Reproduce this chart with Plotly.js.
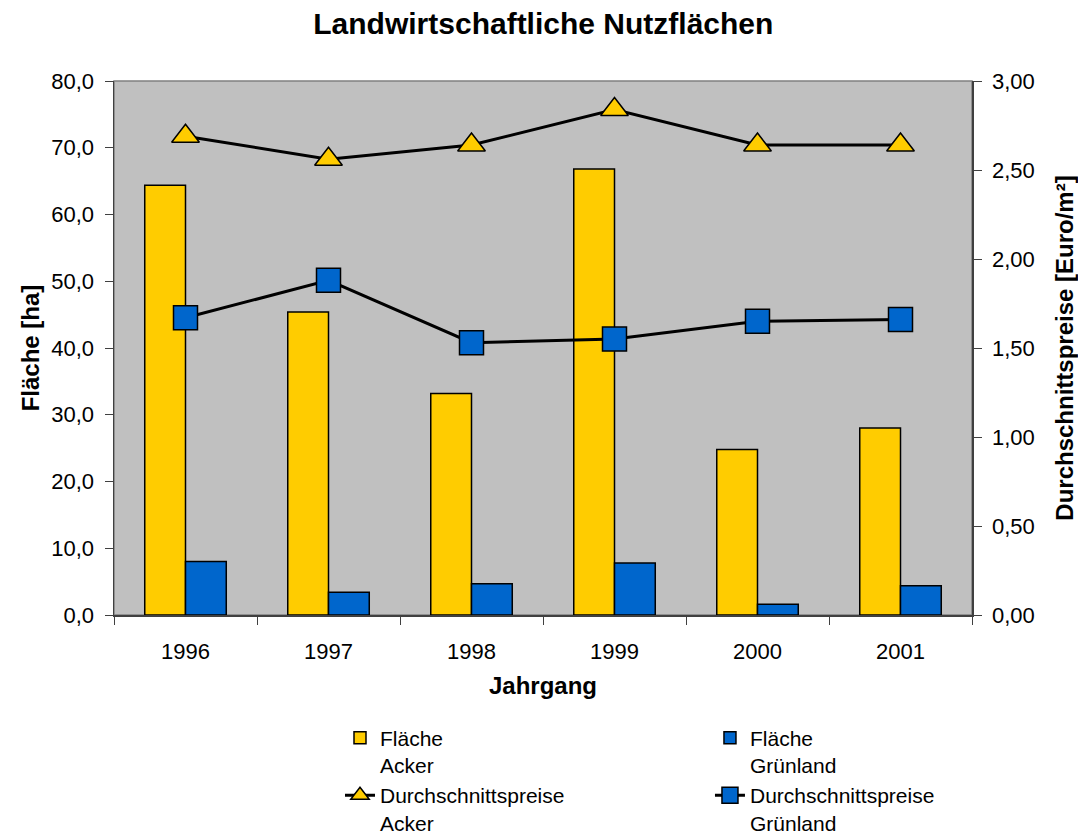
<!DOCTYPE html>
<html lang="de">
<head>
    <meta charset="UTF-8">
    <title>Landwirtschaftliche Nutzflächen</title>
    <script src="https://cdn.plot.ly/plotly-3.0.1.min.js"></script>
    <style>
        body { margin: 0; padding: 0; background: #fff; }
        #chart { width: 1078px; height: 834px; }
    </style>
</head>
<body>
    <div id="chart"></div>
    <script>
        // Daten
        const jahre = ['1996', '1997', '1998', '1999', '2000', '2001'];
        const flaecheAcker = [64.4, 45.4, 33.2, 66.8, 24.8, 28.0];
        const flaecheGruenland = [8.0, 3.4, 4.7, 7.8, 1.6, 4.4];
        const preisAcker = [2.69, 2.56, 2.64, 2.84, 2.64, 2.64];
        const preisGruenland = [1.67, 1.88, 1.53, 1.55, 1.65, 1.66];

        const gelb = '#FFCC00';
        const blau = '#0066CC';
        const schrift = 'Liberation Sans, Arial, sans-serif';

        const data = [
            {
                type: 'bar', x: jahre, y: flaecheAcker, name: 'Fläche<br>Acker',
                marker: { color: gelb, line: { color: '#000', width: 1.5 } },
                legend: 'legend'
            },
            {
                type: 'bar', x: jahre, y: flaecheGruenland, name: 'Fläche<br>Grünland',
                marker: { color: blau, line: { color: '#000', width: 1.5 } },
                legend: 'legend2'
            },
            {
                type: 'scatter', mode: 'lines+markers', x: jahre, y: preisAcker, yaxis: 'y2',
                name: 'Durchschnittspreise<br>Acker',
                line: { color: '#000', width: 3 },
                marker: { symbol: 'triangle-up', size: 24, color: gelb, line: { color: '#000', width: 1.5 } },
                legend: 'legend'
            },
            {
                type: 'scatter', mode: 'lines+markers', x: jahre, y: preisGruenland, yaxis: 'y2',
                name: 'Durchschnittspreise<br>Grünland',
                line: { color: '#000', width: 3 },
                marker: { symbol: 'square', size: 24, color: blau, line: { color: '#000', width: 1.5 } },
                legend: 'legend2'
            }
        ];

        // zwei Legendenspalten unter dem Diagramm
        const legendeBasis = {
            orientation: 'v', yanchor: 'top', xanchor: 'left', y: -0.192,
            valign: 'top', tracegroupgap: 0, bgcolor: 'rgba(0,0,0,0)',
            font: { family: schrift, size: 21, color: '#000' }
        };

        const layout = {
            width: 1078,
            height: 834,
            margin: { l: 114, r: 106, t: 81, b: 219, autoexpand: false },
            paper_bgcolor: '#fff',
            plot_bgcolor: '#C0C0C0',
            separators: ',.',
            font: { family: schrift, color: '#000' },
            barmode: 'group',
            bargap: 0.43,
            bargroupgap: 0,
            title: {
                text: '<b>Landwirtschaftliche Nutzflächen</b>',
                font: { family: schrift, size: 30, color: '#000' },
                x: 0.504, xanchor: 'center', y: 0.972, yanchor: 'middle'
            },
            xaxis: {
                type: 'category', automargin: false,
                showline: true, linecolor: '#404040', linewidth: 1.5,
                ticks: 'outside', tickson: 'boundaries', ticklen: 8, tickcolor: '#404040',
                tickfont: { family: schrift, size: 22, color: '#000' },
                ticklabelstandoff: 16,
                showgrid: false, zeroline: false,
                title: { text: '<b>Jahrgang</b>', font: { family: schrift, size: 24, color: '#000' }, standoff: 14 }
            },
            yaxis: {
                range: [0, 80], dtick: 10, tickformat: '.1f', automargin: false,
                showline: true, linecolor: '#404040', linewidth: 1.5,
                ticks: 'outside', ticklen: 8, tickcolor: '#404040',
                tickfont: { family: schrift, size: 22, color: '#000' },
                ticklabelstandoff: 6,
                showgrid: false, zeroline: false,
                title: { text: '<b>Fläche [ha]</b>', font: { family: schrift, size: 24, color: '#000' }, standoff: 5 }
            },
            yaxis2: {
                overlaying: 'y', side: 'right', automargin: false,
                range: [0, 3], dtick: 0.5, tickformat: '.2f',
                showline: true, linecolor: '#404040', linewidth: 1.5,
                ticks: 'outside', ticklen: 8, tickcolor: '#404040',
                tickfont: { family: schrift, size: 22, color: '#000' },
                ticklabelstandoff: 6,
                showgrid: false, zeroline: false,
                title: { text: '<b>Durchschnittspreise [Euro/m²]</b>', font: { family: schrift, size: 24, color: '#000' }, standoff: 24 }
            },
            legend: Object.assign({}, legendeBasis, { x: 0.2634 }),
            legend2: Object.assign({}, legendeBasis, { x: 0.6946 }),
            shapes: [{
                type: 'rect', xref: 'paper', yref: 'paper', x0: 0, x1: 1, y0: 0, y1: 1,
                line: { color: '#808080', width: 1.5 }, layer: 'below'
            }]
        };

        Plotly.newPlot('chart', data, layout, { displayModeBar: false, staticPlot: true });
    </script>
</body>
</html>
